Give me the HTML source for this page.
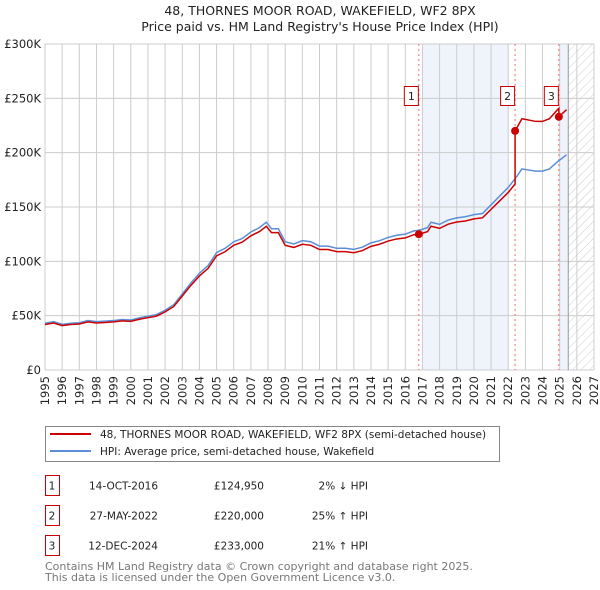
<!DOCTYPE html>
<html><head><meta charset="utf-8"><style>
body{margin:0;background:#fff;font-family:"DejaVu Sans","Liberation Sans",sans-serif;}
svg{display:block}
</style></head><body>
<svg id="c" width="600" height="590" xmlns="http://www.w3.org/2000/svg" font-family="DejaVu Sans, Liberation Sans, sans-serif">
<defs><pattern id="hatch" width="6" height="6" patternUnits="userSpaceOnUse" patternTransform="rotate(45)"><line x1="0" y1="0" x2="0" y2="6" stroke="#ccc" stroke-width="1"/></pattern></defs>
<text x="320" y="15" text-anchor="middle" font-size="12.5" fill="#222">48, THORNES MOOR ROAD, WAKEFIELD, WF2 8PX</text>
<text x="320" y="31" text-anchor="middle" font-size="12.5" fill="#222">Price paid vs. HM Land Registry's House Price Index (HPI)</text>
<g id="plot"></g>
<g>
<rect x="45.5" y="426.5" width="454" height="35" fill="#fff" stroke="#888"/>
<line x1="50" y1="434" x2="91" y2="434" stroke="#cc0000" stroke-width="2"/>
<text x="100" y="438" font-size="10.5" fill="#222">48, THORNES MOOR ROAD, WAKEFIELD, WF2 8PX (semi-detached house)</text>
<line x1="50" y1="451" x2="91" y2="451" stroke="#5b8ed6" stroke-width="2"/>
<text x="100" y="455" font-size="10.5" fill="#222">HPI: Average price, semi-detached house, Wakefield</text>
</g>
<g id="table" font-size="10.5" fill="#222"></g>
<text x="45" y="570" font-size="11" fill="#777">Contains HM Land Registry data © Crown copyright and database right 2025.</text>
<text x="45" y="581" font-size="11" fill="#777">This data is licensed under the Open Government Licence v3.0.</text>
</svg>
<script>
const hpiDates=[1995.0,1995.5,1996.0,1996.5,1997.0,1997.5,1998.0,1998.5,1999.0,1999.5,2000.0,2000.5,2001.0,2001.5,2002.0,2002.5,2003.0,2003.5,2004.0,2004.5,2005.0,2005.5,2006.0,2006.5,2007.0,2007.5,2007.9,2008.2,2008.6,2009.0,2009.5,2010.0,2010.5,2011.0,2011.5,2012.0,2012.5,2013.0,2013.5,2014.0,2014.5,2015.0,2015.5,2016.0,2016.5,2016.8,2017.3,2017.5,2018.0,2018.5,2019.0,2019.5,2020.0,2020.5,2021.0,2021.5,2022.0,2022.4,2022.8,2023.2,2023.6,2024.0,2024.4,2024.9,2025.4];
const hpiValues=[43,44.5,42,43,43.5,45.5,44.5,45,45.5,46.5,46,48,49.5,51,55,60,70,80,89,96,108,112,118,121,127,131,136,130,130,118,116,119,118,114,114,112,112,111,113,117,119,122,124,125,128,128.5,131,136,134,138,140,141,143,144,152,160,168,176,185,184,183,183,185,192,198];
const saleLabels=["1","2","3"];
const saleDates=[2016.79,2022.4,2024.95];
const salePrices=[124950,220000,233000];
const saleDateText=["14-OCT-2016","27-MAY-2022","12-DEC-2024"];
const salePriceText=["£124,950","£220,000","£233,000"];
const saleHpiText=["2% ↓ HPI","25% ↑ HPI","21% ↑ HPI"];
const yTicks=[0,50,100,150,200,250,300];
const yTickLabels=["£0","£50K","£100K","£150K","£200K","£250K","£300K"];
const xYears=[1995,1996,1997,1998,1999,2000,2001,2002,2003,2004,2005,2006,2007,2008,2009,2010,2011,2012,2013,2014,2015,2016,2017,2018,2019,2020,2021,2022,2023,2024,2025,2026,2027];

const NS="http://www.w3.org/2000/svg";
const X0=45,X1=594,Y0=370,Y1=44;
const xs=d=>X0+(d-1995)/(2027-1995)*(X1-X0);
const ys=v=>Y0-v/300*(Y0-Y1);
const plot=document.getElementById('plot');
function mk(tag,attrs,parent){const e=document.createElementNS(NS,tag);for(const k in attrs)e.setAttribute(k,attrs[k]);(parent||plot).appendChild(e);return e;}
function hpiAt(d){for(let i=0;i<hpiDates.length-1;i++){if(d<=hpiDates[i+1]){const t=(d-hpiDates[i])/(hpiDates[i+1]-hpiDates[i]);return hpiValues[i]+t*(hpiValues[i+1]-hpiValues[i]);}}return hpiValues[hpiValues.length-1];}

let r=mk('rect',{x:xs(2017),y:Y1,width:xs(2022)-xs(2017),height:Y0-Y1,fill:'#eef3fc'});


r=mk('rect',{x:xs(2025),y:Y1,width:xs(2025.5)-xs(2025),height:Y0-Y1,fill:'#eef3fc'});


r=mk('rect',{x:xs(2025.5),y:Y1,width:X1-xs(2025.5),height:Y0-Y1,fill:'url(#hatch)'});


xYears.forEach(yr=>{const x=xs(yr);let l=mk('line',{x1:x,y1:Y1,x2:x,y2:Y0,stroke:'#ccc','stroke-width':1});


let t=mk('text',{x:0,y:0,transform:`translate(${x+4},${Y0+6}) rotate(-90)`,'text-anchor':'end','font-size':'11.5',fill:'#222'});t.textContent=yr;

});
yTicks.forEach((v,i)=>{const y=ys(v);let l=mk('line',{x1:X0,y1:y,x2:X1,y2:y,stroke:'#ccc','stroke-width':1});


let t=mk('text',{x:X0-4,y:y+4,'text-anchor':'end','font-size':'11.5',fill:'#222'});t.textContent=yTickLabels[i];

});
let nl=mk('line',{x1:xs(2025.5),y1:Y1,x2:xs(2025.5),y2:Y0,stroke:'#999','stroke-width':1});


saleDates.forEach((d,i)=>{let l=mk('line',{x1:xs(d),y1:Y1,x2:xs(d),y2:Y0,stroke:'#f07070','stroke-width':1,'stroke-dasharray':'2,3'});

});
let pts=hpiDates.map((d,i)=>xs(d)+','+ys(hpiValues[i])).join(' ');
let hp=mk('polyline',{points:pts,fill:'none',stroke:'#5b8ed6','stroke-width':1.5});


function factorAt(d){let f=salePrices[0]/1000/hpiAt(saleDates[0]);for(let i=0;i<saleDates.length;i++){if(d>=saleDates[i])f=salePrices[i]/1000/hpiAt(saleDates[i]);}return f;}
let rp=[];
hpiDates.forEach((d,i)=>{saleDates.forEach(s=>{if(s>(i?hpiDates[i-1]:0)&&s<=d){const h=hpiAt(s);rp.push([s,h*factorAt(s-0.001)]);rp.push([s,h*factorAt(s)]);}});rp.push([d,hpiValues[i]*factorAt(d)]);});
let pl=mk('polyline',{points:rp.map(p=>xs(p[0])+','+ys(p[1])).join(' '),fill:'none',stroke:'#cc0000','stroke-width':1.5});


saleDates.forEach((d,i)=>{const x=xs(d),y=ys(salePrices[i]/1000);
let p=mk('circle',{cx:x,cy:y,r:4,fill:'#cc0000'});


let b=mk('rect',{x:x-14.5,y:86.5,width:14,height:19,fill:'#fff',stroke:'#cc0000'});


let t=mk('text',{x:x-7.5,y:100,'text-anchor':'middle','font-size':'11',fill:'#222'});t.textContent=saleLabels[i];

});
const tb=document.getElementById('table');
saleLabels.forEach((l,i)=>{const y=475+i*30;
let b=mk('rect',{x:45.5,y:y+0.5,width:14,height:20,fill:'#fff',stroke:'#cc0000'},tb);


const cells=[[52,l,'middle'],[158,saleDateText[i],'end'],[264,salePriceText[i],'end'],[368,saleHpiText[i],'end']];
cells.forEach(c=>{let t=mk('text',{x:c[0],y:y+14.5,'text-anchor':c[2]},tb);t.textContent=c[1];

});});
</script>
</body></html>
